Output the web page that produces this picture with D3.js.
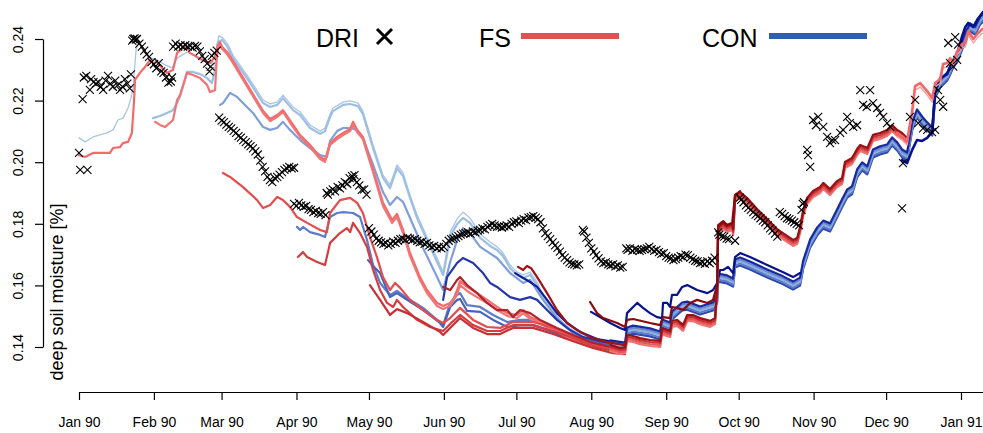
<!DOCTYPE html>
<html><head><meta charset="utf-8">
<script src="https://cdn.jsdelivr.net/npm/d3@7"></script>
<style>
html,body{margin:0;padding:0;background:#fff;}
svg{display:block;font-family:"Liberation Sans",Arial,Helvetica,sans-serif;}
</style></head><body>
<svg id="chart" width="983" height="433"></svg>
<script>
// Deep soil moisture, 1990: DRI observations and monthly-initialised FS / CON runs.
// Every series is [day since 1 Jan 1990, soil moisture].

const monthTicks = ["1990-01-01","1990-02-01","1990-03-01","1990-04-01","1990-05-01","1990-06-01",
  "1990-07-01","1990-08-01","1990-09-01","1990-10-01","1990-11-01","1990-12-01","1991-01-01"];
const yTicks = [0.14, 0.16, 0.18, 0.20, 0.22, 0.24];
const legendNames = ["DRI", "FS", "CON"];

const driObs = [
  [0,0.203],[0.5,0.1975],[1.5,0.2205],[2,0.2275],[3.5,0.1975],[3,0.228],[4.5,0.2235],[5,0.227],[6,0.226],[7,0.2255],
  [8,0.226],[9,0.2245],[10,0.2235],[11,0.2265],[12,0.228],[13,0.2255],[14,0.2245],[15,0.2265],[16,0.225],[17,0.2235],
  [18,0.2245],[19,0.227],[20,0.2255],[21,0.224],[21.5,0.2285],
  [22,0.2395],[22.5,0.240],[23,0.2402],[23.5,0.2398],[24,0.240],[25,0.2385],[26,0.2375],[27,0.2362],[28,0.235],[29,0.2342],
  [30,0.2325],[31,0.2318],[32,0.2305],[33,0.2322],[34,0.2295],[35,0.229],[36,0.2275],[37,0.2258],[38,0.2262],[38.5,0.2275],
  [39,0.2375],[40,0.2385],[41,0.2375],[42,0.238],[43,0.2375],[44,0.238],[45,0.2375],[46,0.2378],[47,0.2372],[48,0.2378],
  [49,0.2375],[50,0.236],[51,0.2345],[52,0.2335],[53,0.232],[54,0.2295],[54.5,0.231],[55,0.2345],[56,0.2355],[57,0.2362],
  [58,0.2145],[59,0.2135],[60,0.213],[61,0.2122],[62,0.2115],[63,0.211],[64,0.2102],[65,0.2095],[66,0.2085],[67,0.208],
  [68,0.2072],[69,0.2065],[70,0.2058],[71,0.2052],[72,0.2045],[73,0.2035],[74,0.2025],[75,0.2005],[76,0.1985],[77,0.197],
  [78,0.1952],[79,0.1942],[80,0.1935],[81,0.1948],[82,0.1952],[83,0.196],[84,0.1968],[85,0.1975],[86,0.198],[87,0.1985],
  [88,0.198],[89,0.1982],
  [89,0.1865],[90,0.1858],[91,0.1868],[92,0.186],[93,0.1855],[94,0.1858],[95,0.1848],[96,0.1845],[97,0.1838],[98,0.1842],
  [99,0.1835],[100,0.1832],[101,0.1838],[102,0.1828],[102.5,0.190],[103,0.1895],[104,0.1905],[105,0.1912],[106,0.1905],
  [107,0.192],[108,0.1915],[109,0.1925],[110,0.1935],[111,0.193],[112,0.1948],[113,0.1955],[113.5,0.1945],[114,0.1958],
  [115,0.1935],[116,0.1925],[117,0.191],[118,0.1912],[119,0.1895],
  [120,0.1786],[121,0.1775],[122,0.1765],[123,0.1752],[124,0.1745],[125,0.174],[126,0.1735],[127,0.1738],[128,0.173],
  [129,0.1735],[130,0.1742],[131,0.1738],[132,0.1745],[133,0.175],[134,0.1752],[135,0.1748],[136,0.1755],[137,0.1752],
  [138,0.1748],[139,0.175],[140,0.1745],[141,0.174],[142,0.1742],[143,0.1735],[144,0.1738],[145,0.173],[146,0.1725],
  [147,0.1728],[148,0.172],[149,0.1725],[150,0.172],
  [151,0.1725],[152,0.1735],[153,0.1745],[154,0.175],[155,0.1752],[156,0.1755],[157,0.176],[158,0.1765],[159,0.1768],
  [160,0.177],[161,0.1772],[162,0.1768],[163,0.1775],[164,0.1772],[165,0.1778],[166,0.178],[167,0.1785],[168,0.1782],
  [169,0.179],[170,0.1795],[171,0.18],[172,0.1795],[173,0.179],[174,0.1792],[175,0.1788],[176,0.1792],[177,0.1795],
  [178,0.179],[179,0.18],[180,0.1805],[181,0.1808],[182,0.1802],[183,0.181],[184,0.1815],[185,0.1812],[186,0.182],
  [187,0.1822],[188,0.1825],[189,0.182],[190,0.1815],[191,0.1805],[192,0.1785],[193,0.177],[194,0.176],[195,0.175],
  [196,0.174],[197,0.173],[198,0.1722],[199,0.171],[200,0.1698],[201,0.169],[202,0.1682],[203,0.1675],[204,0.167],
  [205,0.1668],[206,0.1665],[207,0.1668],
  [208.5,0.178],[209,0.1775],[210,0.1755],[211,0.1738],[212,0.172],[213,0.171],[214,0.1698],[215,0.1688],[216,0.1678],
  [217,0.1672],[218,0.1675],[219,0.1668],[220,0.1665],[221,0.1668],[222,0.1662],[223,0.1665],[224,0.1658],[225,0.166],
  [226.5,0.172],[227,0.1715],[228,0.172],[229,0.1712],[230,0.1718],[231,0.1715],[232,0.1712],[233,0.1715],[234,0.1718],
  [235,0.172],[236,0.1725],[237,0.1718],[238,0.1712],[239,0.1715],[240,0.1708],[241,0.1702],[242,0.1705],[243,0.1695],
  [244,0.169],[245,0.1688],[246,0.1682],[247,0.1685],[248,0.169],[249,0.1695],[250,0.1692],[251,0.17],[252,0.1698],
  [253,0.169],[254,0.1685],[255,0.168],[256,0.1678],[257,0.1672],[258,0.1675],[259,0.167],[260,0.1678],[261,0.1672],
  [262,0.168],[263,0.169],
  [264.5,0.1772],[265,0.1765],[266,0.176],[267,0.1758],[268,0.1752],[269,0.175],[271.5,0.1745],
  [273.5,0.1885],[274,0.1878],[275,0.187],[276,0.186],[277,0.1852],[278,0.1845],[279,0.1838],[280,0.183],[281,0.1825],
  [282,0.1818],[283,0.181],[284,0.1805],[285,0.1795],[286,0.1785],[287,0.1778],[288,0.1768],[289,0.1758],[290,0.1838],
  [291,0.1832],[292,0.1825],[293,0.1818],[294,0.1815],[295,0.181],[296,0.1805],[297,0.18],[298,0.1795],[299,0.1845],
  [299.5,0.1865],[300,0.187],
  [301.3,0.204],[301.7,0.2023],[302.6,0.1985],[303.8,0.2137],[305,0.212],[305.9,0.2147],[308,0.2115],[309.6,0.2082],
  [310.8,0.2062],[311.7,0.2072],[312.9,0.2072],[315,0.2095],[316.2,0.2105],[317.9,0.2147],[319,0.2127],[320.4,0.2115],
  [322,0.212],[323.3,0.2234],[324.5,0.2186],[326,0.218],[327.4,0.2234],[328.6,0.2192],[330.3,0.2176],[331.5,0.216],
  [332.8,0.2147],[334.4,0.2127],[335.7,0.2115],[340.6,0.185],[341,0.1997],[343.9,0.2147],[346,0.2202],[347.3,0.2127],
  [349.3,0.211],[351,0.2105],[353,0.2098],[354.3,0.2105],[355.5,0.2234],[356.4,0.2202],[357.6,0.218],[359.7,0.2387],
  [360.5,0.2322],[361.8,0.231],[362.6,0.2406],[363.4,0.2332],[363.8,0.2382]
];

// CON runs (control), one per initialisation month
const conJan = [[0,.2079],[2.5,.2066],[5.8,.2082],[11.6,.2095],[14.1,.2105],[16.1,.2137],[18.2,.2143],[20.3,.2176],[21.5,.2208],
  [22.4,.2244],[23.6,.2364],[24.4,.2397],[26.1,.2377],[28.6,.2342],[32.3,.2332],[35.6,.2316],[38.5,.2306],[40.6,.2338],[44.7,.2358],
  [47.2,.2348],[50.1,.2332],[53,.2325],[55,.2319],[56.7,.2364],[57.9,.2410],[59.6,.2403],[61.7,.2381],[63.7,.2348],[69.5,.2283],
  [76.2,.2202],[79.1,.2189],[82,.2195],[84.4,.2218],[88.6,.2179],[91.5,.2163],[95.6,.2121],[99.8,.2101],[101.8,.2111],[103.9,.2156],
  [105.1,.2176],[109.3,.2195],[112.2,.2199],[115.5,.2192],[117.5,.2166],[121.7,.2056],[125.8,.1958],[128.7,.1926],[131.6,.1991],
  [134.1,.1965],[137,.1893],[139.9,.1829],[144,.1757],[148.2,.1689],[150.7,.1643],[152.3,.1715],[153.6,.1773],[156.5,.1816],
  [158.9,.1838],[161.8,.1819],[166,.1767],[170.1,.1741],[173,.1725],[175.5,.1705],[178.4,.1666],[181.3,.1643],[183.8,.1634],
  [186.7,.1643],[189.6,.1611],[192,.1569],[195,.1533],[197.8,.1501],[200.3,.1478],[204.5,.1455],[208.6,.1439],[214.4,.1423],
  [219.8,.1410],[225.2,.1400]];
const conFeb = [[30.6,.2143],[33.5,.2150],[36.4,.2160],[38.9,.2169],[40.6,.2192],[41.8,.2212],[44.7,.2293],[47.2,.2293],[50.1,.2286],
  [53,.2273],[55,.2257],[56.3,.2299],[57.5,.2390],[59.2,.2397],[61.3,.2377],[63.7,.2338],[69.5,.2273],[76.2,.2192],[79.1,.2179],
  [82,.2186],[84.4,.2208],[88.6,.2169],[91.5,.2153],[95.6,.2111],[99.8,.2092],[101.8,.2101],[103.9,.2147],[105.1,.2166],
  [109.3,.2186],[112.2,.2189],[115.5,.2182],[117.5,.2156],[121.7,.2046],[125.8,.1949],[128.7,.1916],[131.6,.1981],[134.1,.1955],
  [137,.1884],[139.9,.1819],[144,.1747],[148.2,.1676],[150.7,.1634],[152.3,.1699],[153.6,.1760],[156.5,.1799],[158.9,.1819],
  [161.8,.1803],[166,.1754],[170.1,.1728],[173,.1715],[175.5,.1695],[178.4,.1656],[181.3,.1634],[183.8,.1624],[186.7,.1634],
  [189.6,.1601],[192,.1559],[195,.1527],[197.8,.1494],[200.3,.1471],[204.5,.1449],[208.6,.1432],[214.4,.1419],[219.8,.1406],
  [225.2,.1397]];
const conMar = [[58.4,.2186],[59.6,.2192],[62.5,.2225],[65.4,.2212],[72,.2160],[76.2,.2114],[79.1,.2105],[82,.2111],[84.4,.2131],
  [87.3,.2105],[91.5,.2072],[95.6,.2046],[99.8,.2023],[102.6,.2017],[103.9,.2069],[106.8,.2101],[109.3,.2111],[112.2,.2111],
  [115.1,.2105],[117.5,.2079],[121.7,.1991],[125.8,.1903],[128.7,.1861],[131.6,.1887],[134.1,.1871],[137,.1819],[142.4,.1721],
  [148.2,.1627],[150.7,.1585],[153.6,.1676],[156.5,.1747],[158.9,.1786],[161.8,.1770],[166,.1725],[173,.1689],[178.4,.1640],
  [183.8,.1608],[186.7,.1618],[192,.1553],[197.8,.1494],[204.5,.1445],[211.5,.1423],[219.8,.1406],[226,.1400]];
const conApr = [[90.2,.1790],[91.5,.1780],[92.7,.1790],[95.6,.1773],[99.8,.1764],[101.8,.1757],[103.9,.1822],[106.8,.1835],
  [109.3,.1838],[113.4,.1835],[116.3,.1822],[119.2,.1747],[121.7,.1666],[124.6,.1608],[128.7,.1569],[131.6,.1582],[135.8,.1559],
  [142.4,.1527],[148.2,.1488],[150.7,.1471],[153.6,.1543],[156.5,.1569],[157.7,.1575],[160.6,.1536],[166,.1530],[171.4,.1504],
  [177.2,.1481],[182.5,.1488],[187.9,.1488],[193.7,.1465],[199.1,.1449],[206.1,.1432],[214.4,.1419],[226,.1403]];
const conMay = [[119.6,.1682],[121.7,.1663],[124.6,.1640],[128.7,.1562],[131.6,.1575],[135.8,.1553],[142.4,.1520],[149.4,.1478],
  [150.7,.1465],[153.6,.1530],[156.5,.1553],[157.7,.1556],[160.6,.1517],[166,.1514],[171.4,.1488],[177.2,.1465],[182.5,.1471],
  [187.9,.1471],[193.7,.1455],[199.1,.1439],[206.1,.1426],[214.4,.1413],[226,.1400]];
const conJun = [[150.7,.1553],[152.3,.1627],[156.5,.1673],[158.9,.1689],[163.1,.1673],[167.2,.1640],[170.1,.1608],[173,.1595],
  [178.4,.1562],[182.5,.1553],[186.7,.1562],[189.6,.1553],[193.7,.1520],[197.8,.1488],[203.2,.1455],[208.6,.1432],[215.6,.1419],
  [226,.1406]];
const conJul = [[180.5,.1640],[183.8,.1624],[186.7,.1611],[189.6,.1595],[193.7,.1553],[197.8,.1510],[202,.1478],[207.4,.1449],
  [214.4,.1426],[226,.1410]];
const conAug = [[211.9,.1514],[215.6,.1497],[219.8,.1478],[223.9,.1462],[226,.1455],[226.8,.1510],[229.3,.1530],[231,.1543],
  [233.4,.1527],[236.3,.1510],[239.2,.1497],[241.3,.1494],[241.7,.1543],[243.4,.1543],[244.6,.1530],[245.4,.1569],[247.5,.1569],
  [249.6,.1595],[251.7,.1601],[255.8,.1585],[260,.1575],[262.4,.1585],[264.1,.1608],[265.3,.1650],[266.6,.1650],[268.6,.1660],
  [270.7,.1640],[271.5,.1692],[273.6,.1705],[277.7,.1692],[284.8,.1666],[291.4,.1643],[295.5,.1627],[298.4,.1640]];
// later CON runs, which run together as one band from late August
const conLate = [[219.8,.1410],[226,.1403],[226.8,.1452],[229.3,.1458],[236.3,.1449],[240.5,.1439],[241.3,.1478],[244.6,.1468],
  [245.4,.1504],[249.6,.1533],[251.7,.1536],[257,.1520],[262.4,.1533],[264.1,.1559],[264.5,.1627],[268.2,.1621],[270.7,.1611],
  [271.5,.1673],[273.6,.1679],[277.7,.1666],[284.8,.1640],[291.4,.1618],[295.5,.1601],[298.4,.1614],[299.7,.1669],[302.6,.1738],
  [305.5,.1777],[308,.1799],[310.8,.1790],[313.7,.1835],[315.8,.1868],[317.9,.1900],[319.9,.1910],[322,.1965],[324.1,.1988],
  [326.2,.1975],[328.6,.2030],[331.5,.2040],[334.4,.2046],[336.5,.2069],[338.6,.2053],[340.6,.2030],[342.7,.2020],[344.8,.2118],
  [346.8,.2160],[348.9,.2137],[351,.2118],[353.1,.2101],[354.3,.2225],[356.4,.2257],[359.3,.2280],[360.5,.2299],[361.8,.2322],
  [363.8,.2345],[365.5,.2381],[366.8,.2410],[368.8,.2439],[370.9,.2429],[372.9,.2462],[374.2,.2471]];
const conDec = [[340.6,.2007],[342.7,.1997],[344.8,.2040],[346.8,.2072],[348.9,.2069],[351,.2079],[353.1,.2098],[354.3,.2228],
  [356.4,.2273],[359.3,.2286],[360.5,.2312],[363.4,.2351],[365.5,.2410],[366.8,.2439],[368,.2452],[370.1,.2439],[371.7,.2462],
  [374.2,.2488]];

// FS runs, one per initialisation month
const fsJan = [[0,.2023],[2.5,.2017],[5.8,.2030],[12.8,.2030],[14.1,.2046],[17,.2049],[18.2,.2062],[20.3,.2066],[21.9,.2095],
  [22.8,.2202],[23.2,.2267],[25.2,.2290],[27.3,.2309],[29.4,.2332],[30.6,.2322],[32.3,.2325],[34.4,.2306],[36.4,.2290],[38.9,.2299],
  [40.6,.2355],[43,.2371],[44.7,.2374],[45.9,.2355],[48.8,.2342],[51.3,.2332],[54.2,.2322],[56.3,.2342],[57.5,.2381],[58.4,.2390],
  [59.2,.2374],[61.3,.2358],[63.7,.2329],[69.5,.2254],[76.2,.2166],[79.1,.2140],[82,.2153],[84.4,.2169],[88.6,.2121],[91.5,.2088],
  [95.6,.2056],[99.8,.2017],[101.8,.2007],[103.9,.2062],[106.8,.2082],[109.3,.2095],[112.2,.2108],[113.4,.2131],[115.1,.2105],
  [117.5,.2082],[121.7,.1975],[125.8,.1868],[129.6,.1812],[131.6,.1832],[134.1,.1780],[137,.1705],[141.1,.1627],[144,.1585],
  [148.2,.1543],[150.7,.1533],[153.6,.1543],[154.8,.1553],[156.5,.1585],[157.7,.1614],[160.6,.1595],[164.7,.1575],[168.9,.1553],
  [173,.1530],[177.2,.1510],[181.3,.1504],[183.8,.1520],[186.7,.1497],[192,.1481],[197.8,.1455],[203.2,.1432],[208.6,.1416],
  [215.6,.1403],[225.2,.1390]];
const fsFeb = [[31.5,.2131],[33.5,.2121],[35.6,.2114],[38.9,.2137],[40.6,.2202],[41.8,.2218],[44.7,.2290],[47.2,.2283],[50.1,.2273],
  [53,.2251],[54.2,.2228],[56.3,.2234],[57.1,.2348],[57.9,.2381],[59.2,.2368],[61.3,.2351],[63.7,.2322],[69.5,.2247],[76.2,.2160],
  [79.1,.2134],[82,.2147],[84.4,.2163],[88.6,.2114],[91.5,.2082],[95.6,.2049],[99.8,.2010],[101.8,.2001],[103.9,.2056],[106.8,.2075],
  [109.3,.2088],[112.2,.2101],[113.4,.2121],[115.1,.2098],[117.5,.2075],[121.7,.1968],[125.8,.1858],[129.6,.1803],[131.6,.1822],
  [134.1,.1770],[137,.1695],[141.1,.1618],[144,.1575],[148.2,.1533],[150.7,.1523],[153.6,.1533],[156.5,.1572],[157.7,.1601],
  [160.6,.1582],[164.7,.1562],[168.9,.1543],[173,.1520],[177.2,.1501],[181.3,.1494],[183.8,.1510],[186.7,.1491],[192,.1475],
  [197.8,.1449],[203.2,.1429],[208.6,.1413],[215.6,.1400],[225.2,.1387]];
const fsMar = [[59.6,.1965],[62.5,.1952],[67.9,.1919],[73.7,.1877],[76.2,.1851],[79.1,.1861],[82,.1887],[84.4,.1877],[87.3,.1855],
  [90.2,.1822],[94.4,.1803],[99.8,.1780],[102.6,.1773],[103.9,.1835],[108,.1877],[112.2,.1884],[115.1,.1868],[117.5,.1835],
  [120.4,.1757],[123.3,.1692],[125.8,.1627],[128.7,.1585],[130.8,.1608],[132.9,.1592],[137,.1553],[142.4,.1520],[148.2,.1488],
  [150.7,.1478],[153.6,.1494],[157.7,.1527],[163.1,.1488],[168.9,.1465],[174.3,.1462],[179.6,.1481],[187.9,.1481],[196.2,.1462],
  [204.5,.1436],[212.7,.1410],[221,.1393],[226,.1390]];
const fsApr = [[90.6,.1692],[92.7,.1708],[94.4,.1692],[98.5,.1676],[101.8,.1666],[103.9,.1738],[108,.1770],[110.9,.1786],
  [112.2,.1773],[113.4,.1803],[116.3,.1770],[119.2,.1725],[121.7,.1650],[124.6,.1585],[127.5,.1543],[130,.1530],[131.6,.1553],
  [134.1,.1530],[139.9,.1488],[145.3,.1465],[150.7,.1452],[153.6,.1475],[157.7,.1504],[163.1,.1471],[168.9,.1452],[174.3,.1452],
  [179.6,.1471],[187.9,.1471],[196.2,.1452],[204.5,.1429],[212.7,.1403],[221,.1387],[226,.1384]];
const fsMay = [[120.4,.1601],[124.6,.1553],[128.7,.1504],[131.6,.1523],[135.8,.1510],[142.4,.1481],[149.4,.1449],[150.7,.1439],
  [153.6,.1462],[157.7,.1494],[163.1,.1462],[168.9,.1442],[174.3,.1442],[179.6,.1462],[187.9,.1462],[196.2,.1442],[204.5,.1419],
  [212.7,.1397],[221,.1380],[226,.1377]];
const fsJun = [[150.7,.1595],[153.6,.1585],[156.5,.1618],[157.7,.1627],[160.6,.1601],[164.7,.1575],[168.9,.1543],[173,.1520],
  [177.2,.1520],[179.6,.1497],[182.5,.1520],[186.7,.1510],[190.8,.1488],[197.8,.1462],[204.5,.1439],[211.5,.1416],[219.8,.1400],
  [226,.1390]];
const fsJul = [[181.7,.1660],[183.8,.1650],[185.4,.1663],[187.1,.1656],[189.6,.1627],[193.7,.1575],[197.8,.1520],[202,.1478],
  [206.1,.1455],[211.5,.1432],[218.5,.1416],[226,.1406]];
const fsAug = [[211.5,.1546],[214.4,.1510],[216.9,.1494],[222.7,.1478],[226,.1465],[226.8,.1488],[229.3,.1491],[236.3,.1478],
  [240.5,.1471],[241.7,.1497],[244.6,.1494],[245.4,.1530],[247.5,.1527],[250,.1520],[252.9,.1543],[255.8,.1553],[260,.1543],
  [262.4,.1553],[264.1,.1601],[264.5,.1796],[266.6,.1809],[268.2,.1796],[270.3,.1803],[271.5,.1893],[273.6,.1906]];
const fsLate = [[219.8,.1397],[223.9,.1387],[226,.1390],[226.8,.1429],[229.3,.1426],[232.2,.1419],[236.3,.1413],[240.5,.1410],
  [241.3,.1452],[243.4,.1445],[244.6,.1442],[245.4,.1475],[247.5,.1478],[250,.1462],[251.7,.1494],[254.1,.1494],[257,.1484],
  [261.2,.1475],[263.2,.1484],[264.1,.1585],[264.5,.1780],[266.6,.1793],[268.2,.1783],[270.3,.1790],[270.7,.1773],[271.5,.1884],
  [273.6,.1893],[276.5,.1874],[280.6,.1838],[284.8,.1806],[288.9,.1773],[293,.1751],[295.5,.1738],[297.2,.1744],[298.4,.1780],
  [299.7,.1835],[301.3,.1874],[303.8,.1897],[306.7,.1910],[308,.1923],[310.8,.1903],[313.7,.1929],[315.8,.1939],[317,.1991],
  [319.9,.2004],[322,.2033],[323.3,.2046],[326.2,.2036],[328.6,.2079],[331.5,.2085],[334.4,.2095],[336.5,.2111],[338.6,.2095],
  [340.6,.2085],[342.7,.2069]];
const fsDec = [[338.6,.2095],[340.6,.2085],[342.7,.2069],[344.8,.2166],[346,.2247],[348.1,.2257],[351,.2231],[353.1,.2208],
  [354.3,.2257],[356.4,.2270],[357.6,.2319],[359.3,.2322],[360.5,.2338],[361.8,.2322],[363.4,.2361],[365.5,.2384],[366.8,.2387],
  [368,.2426],[370.1,.2400],[371.7,.2416],[373.8,.2432]];

// ---- drawing ----
const svg = d3.select("#chart");
const t0 = Date.UTC(1990, 0, 1);
const toDate = d => new Date(t0 + d * 864e5);
const x = d3.scaleUtc().domain([new Date(t0), new Date(Date.UTC(1991, 0, 1))]).range([79, 961]);
const y = d3.scaleLinear().domain([0.14, 0.24]).range([347, 39]);
const line = d3.line().x(d => x(toDate(d[0]))).y(d => y(d[1]));

// axes
const xAxis = d3.axisBottom(x)
  .tickValues(monthTicks.map(s => new Date(s + "T00:00:00Z")))
  .tickFormat(d3.utcFormat("%b %y"))
  .tickSize(8).tickSizeOuter(0).tickPadding(17);
const gx = svg.append("g").attr("transform", "translate(0,392)").call(xAxis);
gx.select(".domain").remove();
gx.append("line").attr("x1", x(new Date(t0))).attr("x2", 983).attr("y1", 0.5).attr("y2", 0.5)
  .attr("stroke", "#000").attr("stroke-width", 1.2);
gx.selectAll(".tick line").attr("stroke", "#000").attr("stroke-width", 1.2);
gx.selectAll(".tick text").attr("font-size", 14).attr("fill", "#000")
  .attr("font-family", "Liberation Sans, Arial, sans-serif");

const yAxis = d3.axisLeft(y).tickValues(yTicks).tickFormat(d3.format(".2f")).tickSize(8).tickSizeOuter(0);
const gy = svg.append("g").attr("transform", "translate(43,0)").call(yAxis);
gy.select(".domain").attr("stroke", "#000").attr("stroke-width", 1.2);
gy.selectAll(".tick line").attr("stroke", "#000").attr("stroke-width", 1.2);
gy.selectAll(".tick text").attr("font-size", 14).attr("fill", "#000")
  .attr("font-family", "Liberation Sans, Arial, sans-serif")
  .attr("transform", "rotate(-90)").attr("x", 0).attr("y", -20).attr("dy", 0)
  .attr("text-anchor", "middle");

svg.append("text").attr("transform", "translate(63,292) rotate(-90)")
  .attr("text-anchor", "middle").attr("font-size", 18).attr("fill", "#000")
  .text("deep soil moisture [%]");

// runs
const plot = svg.append("g").attr("fill", "none").attr("stroke-linejoin", "round").attr("stroke-linecap", "round");
const drawRun = (data, color, width, dy = 0) =>
  plot.append("path").attr("d", line(data)).attr("stroke", color).attr("stroke-width", width)
    .attr("transform", dy ? `translate(0,${dy})` : null);

drawRun(conJan, "#a9c6e6", 1.3);
drawRun(conFeb, "#9dbfe3", 2.2);
drawRun(conMar, "#7f9fd9", 2.2);
drawRun(conApr, "#5d7dcb", 2.2);
drawRun(conMay, "#4763bd", 2.2);
drawRun(conJun, "#2638a9", 2.2);
drawRun(conJul, "#101e98", 2.2);
// band of later CON runs
[["#2f49ad", 4.5], ["#5a79c8", 2.5], ["#8db0dd", 0.5], ["#6a8acf", -1.5], ["#1a2a9e", -3.5]]
  .forEach(([c, o]) => drawRun(conLate, c, 2.2, o));
drawRun(conAug, "#07128e", 2.2);
drawRun(conDec, "#07128e", 2.6);

drawRun(fsJan, "#f36a6a", 2.2);
drawRun(fsFeb, "#f27474", 2.2);
drawRun(fsMar, "#e44c4e", 2.2);
drawRun(fsApr, "#d63d40", 2.2);
drawRun(fsMay, "#c73034", 2.2);
drawRun(fsJun, "#b2222a", 2.2);
drawRun(fsJul, "#9c1318", 2.2);
[["#f07474", 3], ["#e05a5a", 1], ["#c83236", -1], ["#9a1015", -3]].forEach(([c, o]) => drawRun(fsLate, c, 2.2, o));
drawRun(fsAug, "#890a0e", 2.2);
drawRun(fsDec, "#f7a0a0", 1.4, 4);
drawRun(fsDec, "#f26868", 2.6);

// DRI observations
const cross = "M-4,-4L4,4M-4,4L4,-4";
svg.append("g").selectAll("path").data(driObs).join("path")
  .attr("transform", d => `translate(${x(toDate(d[0]))},${y(d[1])})`)
  .attr("d", cross).attr("stroke", "#000").attr("stroke-width", 1.1).attr("fill", "none");

// legend
const lg = svg.append("g").attr("font-size", 25).attr("fill", "#000");
lg.append("text").attr("x", 316).attr("y", 47).text(legendNames[0]);
lg.append("path").attr("d", "M377,29L392,44M392,29L377,44").attr("stroke", "#000").attr("stroke-width", 3);
lg.append("text").attr("x", 479).attr("y", 47).text(legendNames[1]);
lg.append("line").attr("x1", 521).attr("x2", 619).attr("y1", 36).attr("y2", 36).attr("stroke", "#e05252").attr("stroke-width", 6);
lg.append("text").attr("x", 702).attr("y", 47).text(legendNames[2]);
lg.append("line").attr("x1", 769).attr("x2", 867).attr("y1", 36).attr("y2", 36).attr("stroke", "#2d5fb2").attr("stroke-width", 6);
</script></body></html>
